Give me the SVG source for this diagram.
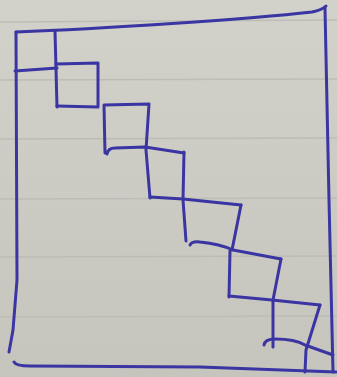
<svg xmlns="http://www.w3.org/2000/svg" width="337" height="377" viewBox="0 0 337 377">
<defs>
<linearGradient id="paper" x1="0" y1="0" x2="0" y2="1">
<stop offset="0" stop-color="#d2d2cb"/>
<stop offset="1" stop-color="#c5c5bd"/>
</linearGradient>
<style>
.ink{fill:none;stroke:#3a35a2;stroke-width:3;stroke-linecap:round;stroke-linejoin:round}
.rule{fill:none;stroke:#bdbdb6;stroke-width:1.5}
</style>
</defs>
<rect x="0" y="0" width="337" height="377" fill="url(#paper)"/>
<g id="rules">
<path class="rule" d="M0,22 L337,20"/>
<path class="rule" d="M0,80 L337,79"/>
<path class="rule" d="M0,139 L337,138"/>
<path class="rule" d="M0,199 L337,198"/>
<path class="rule" d="M0,257 L337,256"/>
<path class="rule" d="M0,317 L337,316"/>
</g>
<g id="frame">
<path class="ink" d="M16,32 C100,29 250,19 312,12 Q322,10 326,6"/>
<path class="ink" d="M325,8 L329,200 L333,372"/>
<path class="ink" d="M16,32 L17,280 L13,330 L9,352"/>
<path class="ink" d="M14,362 Q16,366 30,366 L200,367 L336,372"/>
</g>
<g id="square1">
<path class="ink" d="M55,31 L57,107"/>
<path class="ink" d="M15,71 L57,68"/>
</g>
<g id="square2">
<path class="ink" d="M56,64 L98,63 L98,107 L57,106"/>
</g>
<g id="square3">
<path class="ink" d="M105,153 L104,105 L149,104 L146,150 L150,198"/>
<path class="ink" d="M107,154 Q108,148 115,148 L145,147 L184,153"/>
</g>
<g id="square4">
<path class="ink" d="M184,152 L183,200 L186,241"/>
<path class="ink" d="M150,197 L183,199 L241,205"/>
</g>
<g id="square5">
<path class="ink" d="M241,205 L232,250"/>
<path class="ink" d="M190,245 Q192,241 200,242 Q220,244 233,250 L281,259"/>
</g>
<g id="square6">
<path class="ink" d="M230,251 L229,297"/>
<path class="ink" d="M281,259 L273,300 L273,347"/>
<path class="ink" d="M229,296 L272,300 L320,305"/>
</g>
<g id="square7">
<path class="ink" d="M320,305 L306,350 L305,372"/>
<path class="ink" d="M264,345 Q265,339 275,339 Q295,339 305,345 L333,355"/>
</g>
<g id="connectors"/>
</svg>
